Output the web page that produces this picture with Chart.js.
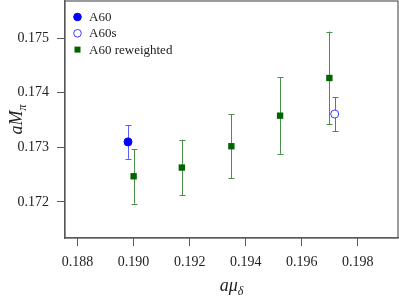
<!DOCTYPE html>
<html>
<head>
<meta charset="utf-8">
<script src="https://cdn.jsdelivr.net/npm/chart.js@4"></script>
<style>
  html, body { margin: 0; padding: 0; background: #fff; }
  #wrap { width: 399px; height: 303px; }
</style>
</head>
<body>
<div id="wrap"><canvas id="chart"></canvas></div>
<script>
// data
const xA60 = [0.18980];
const yA60 = [0.17310];
const eA60 = [0.00031];

const xA60s = [0.19718];
const yA60s = [0.17361];
const eA60s = [0.00031];

const xRew = [0.19000, 0.19172, 0.19349, 0.19523, 0.19699];
const yRew = [0.17247, 0.17263, 0.17302, 0.17358, 0.17427];
const eRew = [0.00050, 0.00051, 0.00059, 0.00070, 0.00085];

const xTicks = [0.188, 0.190, 0.192, 0.194, 0.196, 0.198];
const yTicks = [0.172, 0.173, 0.174, 0.175];

const legendLabels = ["A60", "A60s", "A60 reweighted"];

const frameColor = "#5a5a5a";
const serif = "'Liberation Serif', 'DejaVu Serif', serif";

function pts(xs, ys, es) {
  return xs.map((x, i) => ({ x: x, y: ys[i], err: es[i] }));
}

// error bars, drawn under the markers
const errorBars = {
  id: "errorBars",
  beforeDatasetsDraw(chart) {
    const ctx = chart.ctx;
    const xs = chart.scales.x, ys = chart.scales.y;
    chart.data.datasets.forEach(ds => {
      ctx.save();
      ctx.strokeStyle = ds.errColor;
      ctx.lineWidth = 1;
      ds.data.forEach(p => {
        const px = Math.round(xs.getPixelForValue(p.x)) + 0.5;
        const top = ys.getPixelForValue(p.y + p.err);
        const bot = ys.getPixelForValue(p.y - p.err);
        ctx.beginPath();
        ctx.moveTo(px, top); ctx.lineTo(px, bot);
        ctx.moveTo(px - 3, Math.round(top) + 0.5); ctx.lineTo(px + 3, Math.round(top) + 0.5);
        ctx.moveTo(px - 3, Math.round(bot) + 0.5); ctx.lineTo(px + 3, Math.round(bot) + 0.5);
        ctx.stroke();
      });
      ctx.restore();
    });
  }
};

// box frame, legend and axis titles with subscripts
const decor = {
  id: "decor",
  afterDraw(chart) {
    const ctx = chart.ctx;
    const a = chart.chartArea;
    ctx.save();
    ctx.strokeStyle = frameColor;
    ctx.lineWidth = 1.2;
    ctx.strokeRect(a.left, a.top, a.right - a.left, a.bottom - a.top);

    // legend
    ctx.font = "13px " + serif;
    ctx.textBaseline = "middle";
    chart.data.datasets.forEach((ds, i) => {
      const cx = a.left + 12.5, cy = a.top + 16 + i * 16.3;
      ctx.beginPath();
      if (ds.pointStyle === "rect") {
        ctx.fillStyle = ds.pointBackgroundColor;
        ctx.fillRect(cx - 3, cy - 3, 6, 6);
      } else {
        ctx.arc(cx, cy, 3.8, 0, Math.PI * 2);
        ctx.fillStyle = ds.pointBackgroundColor;
        ctx.fill();
        ctx.strokeStyle = ds.pointBorderColor;
        ctx.lineWidth = 1;
        ctx.stroke();
      }
      ctx.fillStyle = "#222";
      ctx.textAlign = "left";
      ctx.fillText(legendLabels[i], a.left + 24, cy + 0.5);
    });

    // x title: a mu_delta
    const midX = (a.left + a.right) / 2;
    ctx.fillStyle = "#222";
    ctx.textBaseline = "alphabetic";
    ctx.font = "italic 18px " + serif;
    const main = "a\u03bc";
    const w1 = ctx.measureText(main).width;
    ctx.font = "italic 12px " + serif;
    const w2 = ctx.measureText("\u03b4").width;
    let sx = midX - (w1 + w2) / 2;
    ctx.font = "italic 18px " + serif;
    ctx.textAlign = "left";
    ctx.fillText(main, sx, 291);
    ctx.font = "italic 12px " + serif;
    ctx.fillText("\u03b4", sx + w1, 295);

    // y title: a M_pi, rotated
    const midY = (a.top + a.bottom) / 2;
    ctx.translate(22, midY);
    ctx.rotate(-Math.PI / 2);
    ctx.font = "italic 18px " + serif;
    const m = "aM";
    const w3 = ctx.measureText(m).width;
    ctx.font = "italic 12px " + serif;
    const w4 = ctx.measureText("\u03c0").width;
    sx = -(w3 + w4) / 2;
    ctx.font = "italic 18px " + serif;
    ctx.fillText(m, sx, 0);
    ctx.font = "italic 12px " + serif;
    ctx.fillText("\u03c0", sx + w3, 4);
    ctx.restore();
  }
};

const ctx = document.getElementById("chart").getContext("2d");
const chart = new Chart(ctx, {
  type: "scatter",
  data: {
    datasets: [
      {
        label: legendLabels[0],
        data: pts(xA60, yA60, eA60),
        pointStyle: "circle",
        pointRadius: 4,
        pointBackgroundColor: "#0000ff",
        pointBorderColor: "#0000ff",
        errColor: "#5c5cff",
      },
      {
        label: legendLabels[1],
        data: pts(xA60s, yA60s, eA60s),
        pointStyle: "circle",
        pointRadius: 4,
        pointBorderWidth: 1,
        pointBackgroundColor: "#ffffff",
        pointBorderColor: "#3a3aff",
        errColor: "#5c5cff",
      },
      {
        label: legendLabels[2],
        data: pts(xRew, yRew, eRew),
        pointStyle: "rect",
        pointRadius: 4.5,
        pointBorderWidth: 0,
        pointBackgroundColor: "#006400",
        pointBorderColor: "#006400",
        errColor: "#4a8f4a",
      },
    ],
  },
  options: {
    responsive: true,
    maintainAspectRatio: false,
    animation: false,
    layout: { autoPadding: false, padding: { top: 1, right: 1 } },
    plugins: {
      legend: { display: false },
      tooltip: { enabled: false },
    },
    scales: {
      x: {
        type: "linear",
        min: 0.18755,
        max: 0.19944,
        afterBuildTicks: s => { s.ticks = xTicks.map(v => ({ value: v })); },
        afterFit: s => { s.height = 65; s.paddingLeft = 0; s.paddingRight = 0; },
        grid: { drawOnChartArea: false, drawTicks: true, tickLength: 8, color: frameColor },
        border: { display: true, color: frameColor, width: 1.2 },
        ticks: {
          padding: 8,
          color: "#222",
          font: { family: serif, size: 14 },
          maxRotation: 0,
          callback: v => v.toFixed(3),
        },
      },
      y: {
        type: "linear",
        min: 0.17134,
        max: 0.17568,
        afterBuildTicks: s => { s.ticks = yTicks.map(v => ({ value: v })); },
        afterFit: s => { s.width = 65; s.paddingTop = 0; s.paddingBottom = 0; },
        grid: { drawOnChartArea: false, drawTicks: true, tickLength: 8, color: frameColor },
        border: { display: true, color: frameColor, width: 1.2 },
        ticks: {
          padding: 8,
          color: "#222",
          font: { family: serif, size: 14 },
          callback: v => v.toFixed(3),
        },
      },
    },
  },
  plugins: [errorBars, decor],
});
</script>
</body>
</html>
